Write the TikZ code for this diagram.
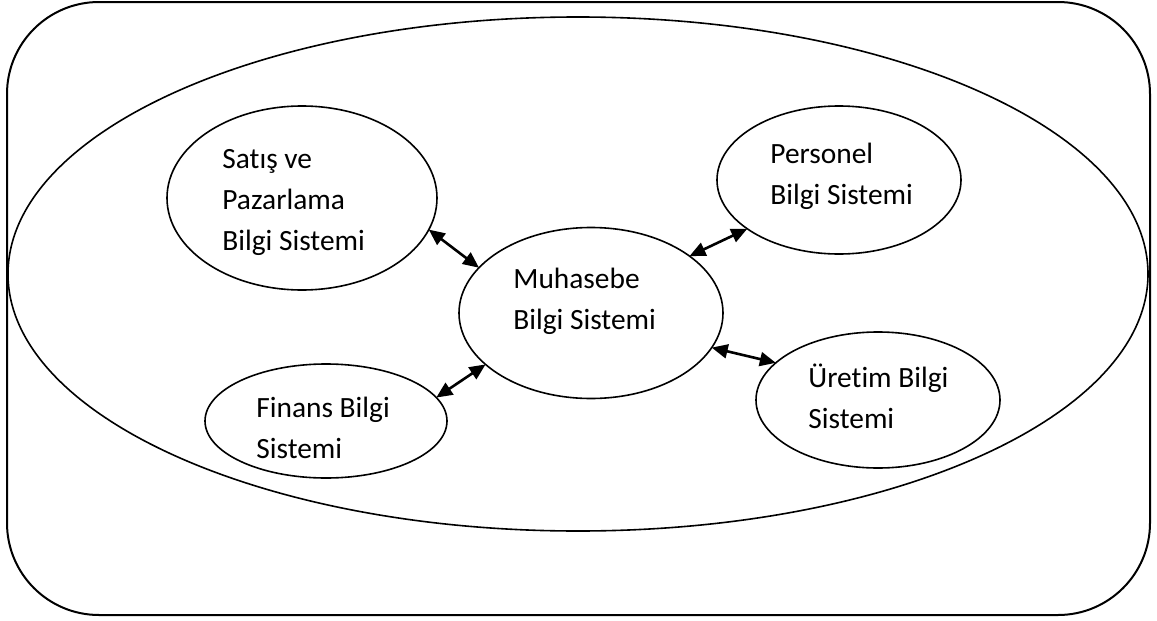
\documentclass[tikz,border=0pt]{standalone}
\usepackage{fontspec}
\setmainfont{Carlito}[Ligatures=NoCommon]
\usetikzlibrary{shapes.geometric, arrows.meta}

\tikzset{
  sys/.style={draw, ellipse, line width=0.8pt, inner sep=0pt, outer sep=0pt},
  lbl/.style={anchor=base west, align=left, inner sep=0pt, font=\fontsize{14.7}{20.5}\selectfont},
  link/.style={{Triangle[length=8pt,width=7pt]}-{Triangle[length=8pt,width=7pt]}, line width=1.3pt},
}

\begin{document}
\begin{tikzpicture}[x=0.5pt,y=-0.5pt]
\useasboundingbox (0,0) rectangle (1157,621);
\draw[line width=1pt, rounded corners=46pt] (7,2) rectangle (1150,615);
\node[sys, minimum width=570pt, minimum height=257pt] (org) at (578,274) {};
% alt sistemler
\node[sys, minimum width=135pt, minimum height=92pt] (satis) at (302,198) {};
\node[sys, minimum width=132pt, minimum height=85.5pt] (muh) at (591,313) {};
\node[sys, minimum width=122pt, minimum height=74pt] (pers) at (839,180) {};
\node[sys, minimum width=121pt, minimum height=57pt] (fin) at (326,421) {};
\node[sys, minimum width=122pt, minimum height=68pt] (uret) at (878,400) {};
% metinler (son satirin taban cizgisi)
\node[lbl] (satisT) at (222,250) {Satış ve\\Pazarlama\\Bilgi Sistemi};
\node[lbl] (muhT) at (513,329) {Muhasebe\\Bilgi Sistemi};
\node[lbl] (persT) at (770,204) {Personel\\Bilgi Sistemi};
\node[lbl] (finT) at (256,458) {Finans Bilgi\\Sistemi};
\node[lbl] (uretT) at (808,428) {Üretim Bilgi\\Sistemi};
\draw[link] (satis.-14) -- (muh.158);
\draw[link] (muh.30) -- (pers.-152);
\draw[link] (muh.-16) -- (uret.160);
\draw[link] (fin.12) -- (muh.-154);
\end{tikzpicture}
\end{document}
